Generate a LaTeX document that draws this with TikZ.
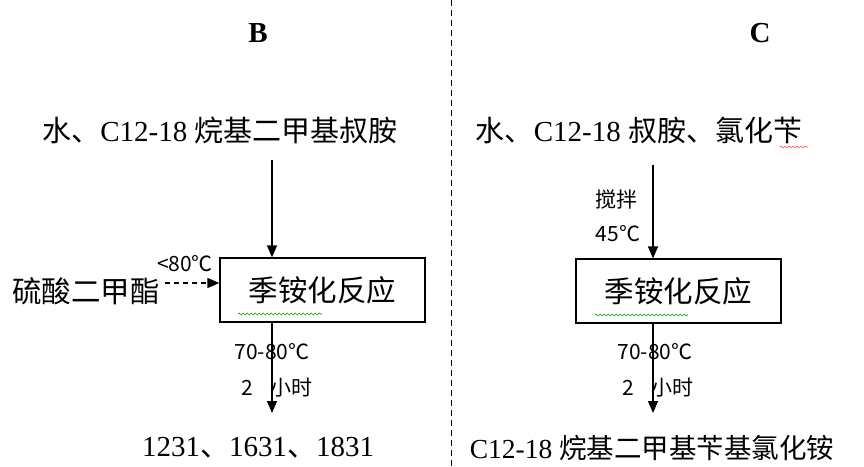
\documentclass[tikz,border=0pt]{standalone}
\usepackage{fontspec}
\setmainfont{Liberation Serif}
\newfontfamily\cjk{Noto Sans CJK SC}
\usetikzlibrary{arrows.meta,decorations.pathmorphing}
\begin{document}
\begin{tikzpicture}[x=1pt,y=-1pt,
  txt/.style={inner sep=0pt,anchor=center,font=\fontsize{29}{32}\selectfont},
  lbl/.style={inner sep=0pt,anchor=center,font=\cjk\fontsize{21}{24}\selectfont},
  box/.style={draw,line width=1.2pt,minimum width=205pt,minimum height=64pt,inner sep=0pt,font=\cjk\fontsize{29.5}{32}\selectfont},
  arr/.style={line width=1.2pt,-{Triangle[length=12pt,width=10pt]}},
  squig/.style={decorate,decoration={snake,amplitude=1pt,segment length=4pt},line width=0.6pt}]
\useasboundingbox (0,0) rectangle (864,466);
\fill[white] (0,0) rectangle (864,466);
% headings
\node[txt,font=\bfseries\fontsize{29}{30}\selectfont] (hb) at (258,33) {B};
\node[txt,font=\bfseries\fontsize{29}{30}\selectfont] (hc) at (760,33) {C};
% divider
\coordinate (d1) at (451,0);
\coordinate (d2) at (451,466);
\draw[dashed,line width=1pt,dash pattern=on 6pt off 4pt] (d1) -- (d2);
% ---- B ----
\node[txt] (inb) at (220,130) {{\cjk 水、}C12-18 {\cjk 烷基二甲基叔胺}};
\node[box] (rb) at (322.5,290) {季铵化反应};
\coordinate (tb) at (272,160);
\draw[arr] (tb) -- (tb |- rb.north);
\node[txt,font=\cjk\fontsize{29.5}{32}\selectfont] (dms) at (86,291) {硫酸二甲酯};
\node[lbl] (t80) at (185,264) {<80℃};
\coordinate (ds) at (165,283);
\draw[arr,dashed,dash pattern=on 5pt off 4pt] (ds) -- (ds -| rb.west);
\coordinate (ob) at (272,322);
\coordinate (eb) at (272,413);
\draw[arr] (ob) -- (eb);
\node[lbl] (l1b) at (272,352) {70-80℃};
\node[lbl,anchor=west] (l2b) at (241,388) {2\hspace{18pt}小时};
\node[txt] (outb) at (258,448) {1231{\cjk 、}1631{\cjk 、}1831};
\draw[squig,green!60!black] (238,314) -- (322,314);
% ---- C ----
\node[txt] (inc) at (639,130) {{\cjk 水、}C12-18 {\cjk 叔胺、氯化苄}};
\node[box] (rc) at (678.5,291) {季铵化反应};
\coordinate (tc) at (653,165);
\draw[arr] (tc) -- (tc |- rc.north);
\node[lbl] (stir) at (616,200) {搅拌};
\node[lbl] (t45) at (618,234) {45℃};
\coordinate (oc) at (653,323);
\coordinate (ec) at (653,413);
\draw[arr] (oc) -- (ec);
\node[lbl] (l1c) at (655,352) {70-80℃};
\node[lbl,anchor=west] (l2c) at (622,388) {2\hspace{18pt}小时};
\node[txt,font=\fontsize{27.5}{30}\selectfont] (outc) at (652,448) {C12-18 {\cjk 烷基二甲基苄基氯化铵}};
\draw[squig,green!60!black] (595,315) -- (688,315);
\draw[squig,red!70] (780,147) -- (808,147);
\end{tikzpicture}
\end{document}
